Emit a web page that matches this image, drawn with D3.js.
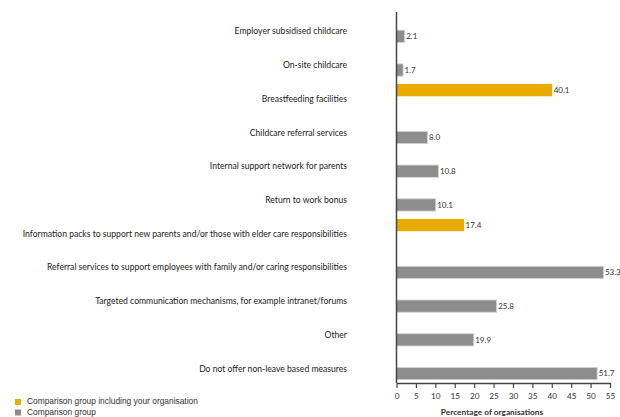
<!DOCTYPE html>
<html>
<head>
<meta charset="utf-8">
<script src="https://cdn.jsdelivr.net/npm/d3@7"></script>
<style>
  html, body { margin: 0; padding: 0; background: #fff; }
  svg { display: block; }
</style>
</head>
<body>
<svg id="chart" width="620" height="417"></svg>
<script>
// Non-leave based measures offered by organisations
const categories = [
  "Employer subsidised childcare",
  "On-site childcare",
  "Breastfeeding facilities",
  "Childcare referral services",
  "Internal support network for parents",
  "Return to work bonus",
  "Information packs to support new parents and/or those with elder care responsibilities",
  "Referral services to support employees with family and/or caring responsibilities",
  "Targeted communication mechanisms, for example intranet/forums",
  "Other",
  "Do not offer non-leave based measures"
];
// Comparison group including your organisation
const inclValues = [null, null, 40.1, null, null, null, 17.4, null, null, null, null];
// Comparison group
const compValues = [2.1, 1.7, null, 8.0, 10.8, 10.1, null, 53.3, 25.8, 19.9, 51.7];

const seriesNames = ["Comparison group including your organisation", "Comparison group"];
const seriesKeys = ["incl", "comp"];
const seriesColors = ["#eaab00", "#8d8d8d"];
const xTicks = [0, 5, 10, 15, 20, 25, 30, 35, 40, 45, 50, 55];
const xTitle = "Percentage of organisations";

const svg = d3.select("#chart");
const labelFont = "Lato, 'Open Sans', sans-serif";

const x = d3.scaleLinear().domain([0, 55]).range([396.5, 610]);
const y = d3.scaleBand().domain(categories).range([12, 383]).paddingInner(0).paddingOuter(0);
const ySub = d3.scaleBand().domain(seriesKeys).range([0, y.bandwidth()])
  .paddingInner(0.1).paddingOuter(0.29).align(0.58);
const color = d3.scaleOrdinal().domain(seriesKeys).range(seriesColors);

const rows = [];
categories.forEach((c, i) => {
  if (inclValues[i] != null) rows.push({ cat: c, key: "incl", value: inclValues[i] });
  if (compValues[i] != null) rows.push({ cat: c, key: "comp", value: compValues[i] });
});

// bars
svg.append("g").selectAll("rect").data(rows).join("rect")
  .attr("x", x(0))
  .attr("y", d => y(d.cat) + ySub(d.key))
  .attr("width", d => x(d.value) - x(0))
  .attr("height", ySub.bandwidth())
  .attr("fill", d => color(d.key))
  .attr("stroke", d => d.key === "comp" ? "#d4d4d4" : "none")
  .attr("stroke-width", 0.8);

// value labels
svg.append("g").selectAll("text").data(rows).join("text")
  .attr("x", d => x(d.value) + 1.5)
  .attr("y", d => y(d.cat) + ySub(d.key) + ySub.bandwidth() / 2)
  .attr("dy", "0.35em")
  .attr("font-family", labelFont)
  .attr("font-size", 8)
  .attr("fill", "#333")
  .text(d => d.value.toFixed(1));

// category labels
svg.append("g").selectAll("text").data(categories).join("text")
  .attr("x", 347)
  .attr("y", d => y(d) + y.bandwidth() / 2 + 2.5)
  .attr("dy", "0.35em")
  .attr("text-anchor", "end")
  .attr("font-family", labelFont)
  .attr("font-size", 8.6)
  .attr("fill", "#222")
  .text(d => d);

// x axis
const xAxis = d3.axisBottom(x).tickValues(xTicks).tickSize(5).tickSizeOuter(0).tickPadding(5);
const gx = svg.append("g").attr("transform", "translate(0,383)").call(xAxis);
gx.select(".domain").attr("stroke", "#444").attr("stroke-width", 1.3);
gx.selectAll(".tick line").attr("stroke", "#444").attr("stroke-width", 1.2);
gx.selectAll(".tick text")
  .attr("font-family", labelFont).attr("font-size", 8.2).attr("fill", "#333");

// vertical baseline
svg.append("line")
  .attr("x1", x(0)).attr("x2", x(0))
  .attr("y1", y.range()[0]).attr("y2", y.range()[1])
  .attr("stroke", "#444").attr("stroke-width", 1.5);

svg.append("text")
  .attr("x", 492).attr("y", 412)
  .attr("dy", "0.35em")
  .attr("text-anchor", "middle")
  .attr("font-family", labelFont)
  .attr("font-size", 8.3)
  .attr("font-weight", 700)
  .attr("fill", "#333")
  .text(xTitle);

// legend
const legend = svg.append("g").selectAll("g").data(seriesKeys).join("g")
  .attr("transform", (d, i) => `translate(15,${399 + i * 10.5})`);
legend.append("rect")
  .attr("width", 6).attr("height", 6)
  .attr("fill", d => color(d));
legend.append("text")
  .attr("x", 12).attr("y", 2.5)
  .attr("dy", "0.35em")
  .attr("font-family", "'Liberation Sans', Arial, sans-serif")
  .attr("font-size", 8.4)
  .attr("fill", "#333")
  .text((d, i) => seriesNames[i]);
</script>
</body>
</html>
